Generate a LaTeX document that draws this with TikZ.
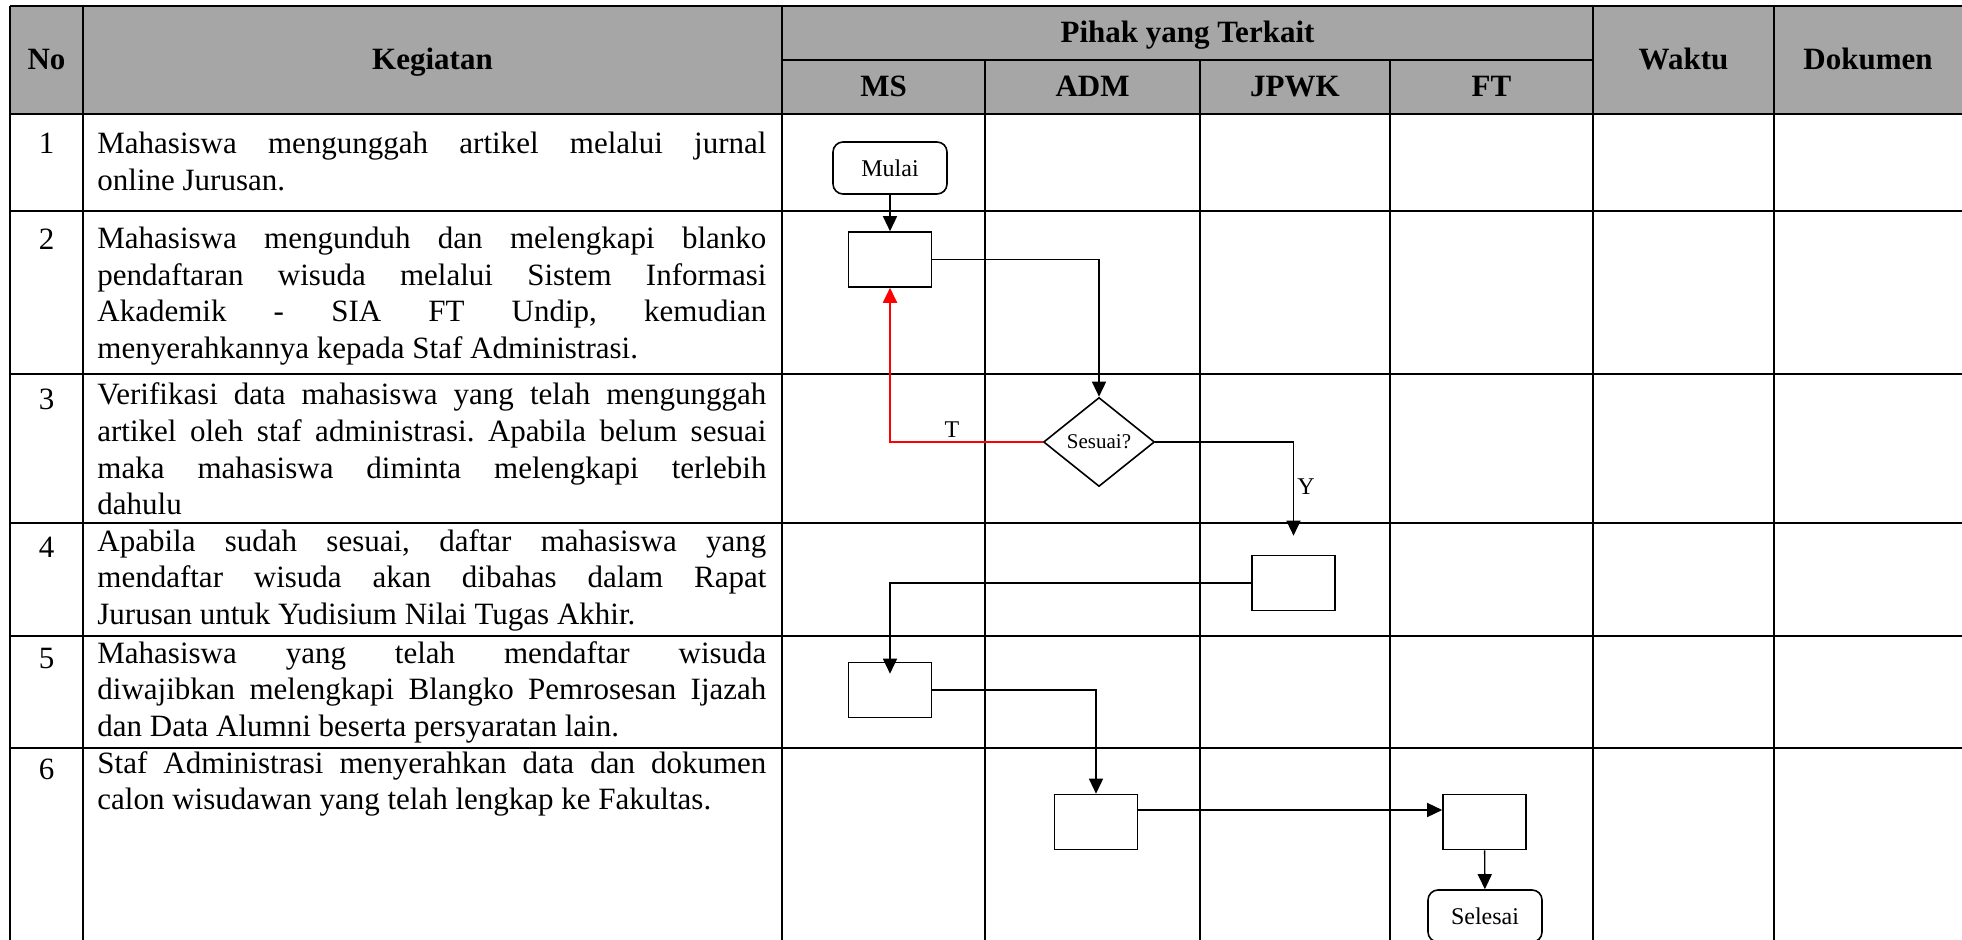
\documentclass[tikz,border=0pt]{standalone}
\usepackage{fontspec}
\setmainfont{Liberation Serif}
\usetikzlibrary{arrows.meta,shapes.geometric}
\definecolor{abu}{HTML}{A6A6A6}
\frenchspacing

\newcommand{\isi}{\fontsize{15.5}{18.25}\selectfont}

\begin{document}
\begin{tikzpicture}[x=0.5pt,y=-0.5pt,
    garis/.style={line width=1pt},
    judul/.style={anchor=base,font=\isi\bfseries},
    nomor/.style={anchor=base,font=\isi},
    kegiatan/.style={anchor=base west,inner sep=0pt,text width=334.5pt,align=justify,font=\isi},
    proses/.style={draw,fill=white,line width=0.8pt,inner sep=0pt,minimum width=41.5pt,minimum height=27.5pt},
    terminal/.style={draw,fill=white,line width=0.8pt,rounded corners=5pt,inner sep=0pt,minimum width=57pt,minimum height=26pt,font=\fontsize{12}{14}\selectfont},
    keputusan/.style={draw,fill=white,diamond,line width=0.8pt,inner sep=0pt,minimum width=55.5pt,minimum height=44.5pt,font=\fontsize{10.5}{12}\selectfont},
    alur/.style={line width=0.7pt,-{Triangle[length=7.5pt,width=7pt]}},
    balik/.style={alur,red,line width=1pt},
    ket/.style={inner sep=0pt,font=\fontsize{12}{14}\selectfont}]
  \useasboundingbox (0,0) rectangle (1962,940);

  % Header
  \fill[abu] (10,6) rectangle (1962,114);

  % Table lines
  \foreach \y in {6,114,211,374,523,636,748}
    \draw[garis] (10,\y) -- (1962,\y);
  \draw[garis] (782,60) -- (1593,60);
  \foreach \x in {10,83,782,1593,1774}
    \draw[garis] (\x,6) -- (\x,960);
  \foreach \x in {985,1200,1390}
    \draw[garis] (\x,60) -- (\x,960);

  % Header texts
  \node[judul] (hno) at (46.5,70) {No};
  \node[judul] (hkeg) at (432.5,70) {Kegiatan};
  \node[judul] (hpihak) at (1187.5,43) {Pihak yang Terkait};
  \node[judul] (hms) at (883.5,97) {MS};
  \node[judul] (hadm) at (1092.5,97) {ADM};
  \node[judul] (hjpwk) at (1295,97) {JPWK};
  \node[judul] (hft) at (1491.5,97) {FT};
  \node[judul] (hwaktu) at (1683.5,70) {Waktu};
  \node[judul] (hdok) at (1868,70) {Dokumen};

  % Rows
  \node[nomor] (n1) at (46.5,154) {1};
  \node[kegiatan] (k1) at (97,154) {Mahasiswa mengunggah artikel melalui jurnal\linebreak online Jurusan.};
  \node[nomor] (n2) at (46.5,250) {2};
  \node[kegiatan] (k2) at (97,249) {Mahasiswa mengunduh dan melengkapi blanko\linebreak pendaftaran wisuda melalui Sistem Informasi\linebreak Akademik - SIA FT Undip, kemudian\linebreak menyerahkannya kepada Staf Administrasi.};
  \node[nomor] (n3) at (46.5,410) {3};
  \node[kegiatan] (k3) at (97,405) {Verifikasi data mahasiswa yang telah mengunggah\linebreak artikel oleh staf administrasi. Apabila belum sesuai\linebreak maka mahasiswa diminta melengkapi terlebih\linebreak dahulu};
  \node[nomor] (n4) at (46.5,557) {4};
  \node[kegiatan] (k4) at (97,551) {Apabila sudah sesuai, daftar mahasiswa yang\linebreak mendaftar wisuda akan dibahas dalam Rapat\linebreak Jurusan untuk Yudisium Nilai Tugas Akhir.};
  \node[nomor] (n5) at (46.5,668) {5};
  \node[kegiatan] (k5) at (97,663) {Mahasiswa yang telah mendaftar wisuda\linebreak diwajibkan melengkapi Blangko Pemrosesan Ijazah\linebreak dan Data Alumni beserta persyaratan lain.};
  \node[nomor] (n6) at (46.5,779) {6};
  \node[kegiatan] (k6) at (97,773) {Staf Administrasi menyerahkan data dan dokumen\linebreak calon wisudawan yang telah lengkap ke Fakultas.};

  % Flow nodes
  \node[terminal] (mulai) at (890,168) {Mulai};
  \node[proses] (daftar) at (890,259.5) {};
  \node[keputusan] (cek) at (1099,442) {Sesuai?};
  \node[proses] (rapat) at (1293.5,583) {};
  \node[proses] (blanko) at (890,690) {};
  \node[proses] (kirim) at (1096,822) {};
  \node[proses] (fakultas) at (1484.5,822) {};
  \node[terminal] (selesai) at (1485,916) {Selesai};

  % Edges
  \draw[alur] (mulai) -- (daftar);
  \draw[alur] (daftar.east) -| (cek.north);
  \draw[balik] (cek.west) -| (daftar.south);
  \draw[alur,shorten >=9.5pt] (cek.east) -| (rapat.north);
  \draw[alur,shorten >=-6pt] (rapat.west) -| (blanko.north);
  \draw[alur] (blanko.east) -| (kirim.north);
  \draw[alur] ([yshift=6pt]kirim.east) -- ([yshift=6pt]fakultas.west);
  \draw[alur] (fakultas) -- (selesai);
  \node[ket] (lt) at (952,430) {T};
  \node[ket] (ly) at (1306,487) {Y};
\end{tikzpicture}
\end{document}
